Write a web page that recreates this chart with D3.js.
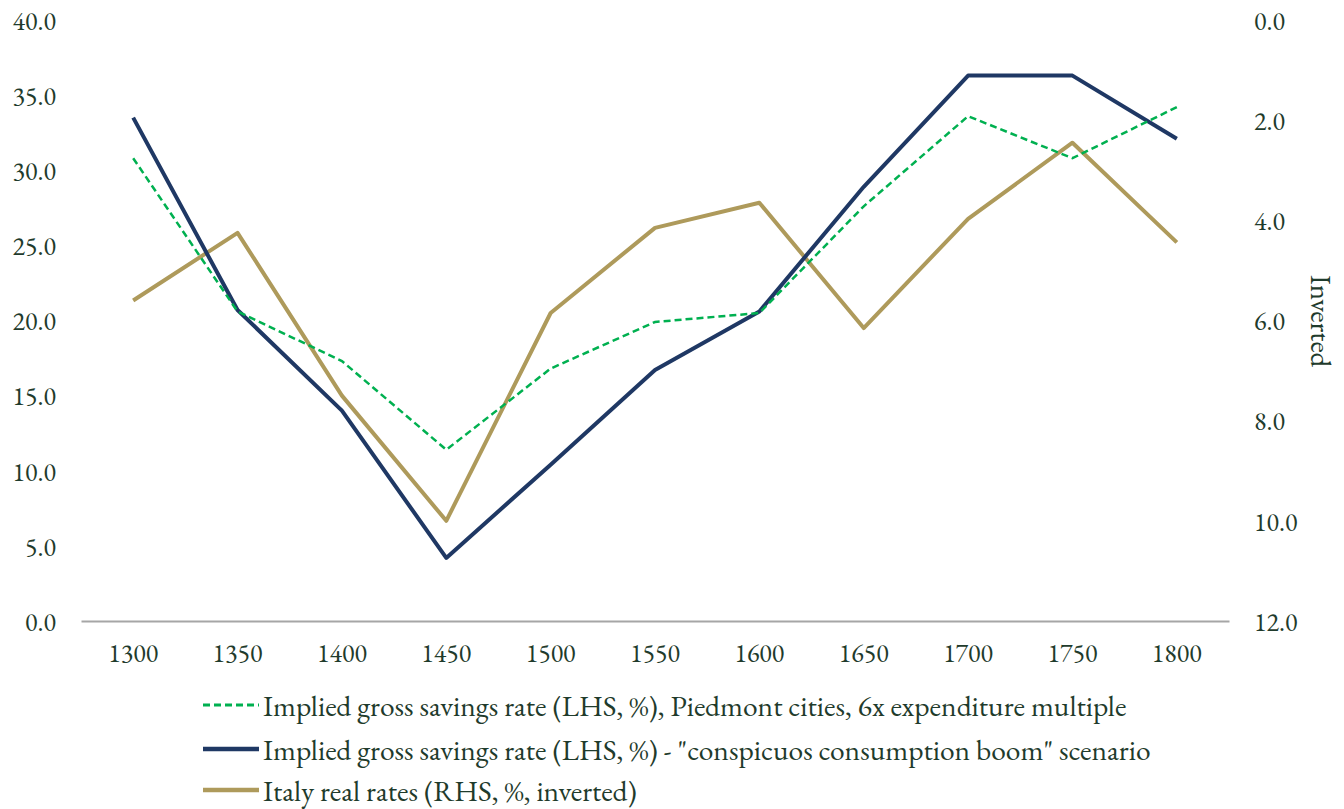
<!DOCTYPE html>
<html>
<head>
<meta charset="utf-8">
<script src="https://cdn.jsdelivr.net/npm/d3@7"></script>
<style>
  html, body { margin: 0; padding: 0; background: #fff; }
  svg { display: block; }
  svg text { font-family: "EB Garamond", "Liberation Serif", cursive; }
</style>
</head>
<body>
<svg id="chart" width="1344" height="809"></svg>
<script>
const years = ["1300","1350","1400","1450","1500","1550","1600","1650","1700","1750","1800"];
const piedmontSavings = [30.8, 20.6, 17.3, 11.4, 16.8, 19.9, 20.5, 27.6, 33.6, 30.8, 34.2];
const boomSavings = [33.5, 20.7, 14.0, 4.2, 10.4, 16.7, 20.6, 28.9, 36.3, 36.3, 32.1];
const italyRealRates = [5.6, 4.25, 7.5, 10.0, 5.85, 4.15, 3.65, 6.15, 3.97, 2.45, 4.44];
const leftTicks = [0, 5, 10, 15, 20, 25, 30, 35, 40];
const rightTicks = [0, 2, 4, 6, 8, 10, 12];
const seriesNames = [
  "Implied gross savings rate (LHS, %), Piedmont cities, 6x expenditure multiple",
  "Implied gross savings rate (LHS, %) - \"conspicuos consumption boom\" scenario",
  "Italy real rates (RHS, %, inverted)"
];
const rightTitle = "Inverted";

const FONT = "\"EB Garamond\", \"Liberation Serif\", cursive";
const TXT = "#1f3b2c";

const svg = d3.select("#chart");
const x = d3.scaleBand().domain(years).range([81, 1229]).padding(0);
const yL = d3.scaleLinear().domain([0, 40]).range([621, 20]);
const yR = d3.scaleLinear().domain([0, 12]).range([20, 621]);
const cx = d => x(d) + x.bandwidth() / 2;

function styleText(sel, size) {
  sel.attr("font-family", FONT).style("font-family", FONT).style("font-size", (size || 26) + "px").style("fill", TXT);
}

// left axis
const gL = svg.append("g").attr("transform", "translate(56,1)")
  .call(d3.axisLeft(yL).tickValues(leftTicks).tickFormat(d3.format(".1f")).tickSize(0).tickPadding(0));
gL.attr("font-family", FONT).attr("font-size", 26);
gL.select(".domain").remove();
styleText(gL.selectAll("text"));

// right axis
const gR = svg.append("g").attr("transform", "translate(1254,1)")
  .call(d3.axisRight(yR).tickValues(rightTicks).tickFormat(d3.format(".1f")).tickSize(0).tickPadding(0));
gR.attr("font-family", FONT).attr("font-size", 26);
gR.select(".domain").remove();
styleText(gR.selectAll("text"));

// bottom axis
const gB = svg.append("g").attr("transform", "translate(0,621)")
  .call(d3.axisBottom(x).tickSize(0).tickPadding(23));
gB.attr("font-family", FONT).attr("font-size", 26);
gB.select(".domain").attr("stroke", "#a6a6a6").attr("stroke-width", 2);
styleText(gB.selectAll("text"));

// right title
styleText(svg.append("text")
  .attr("transform", "translate(1321,321) rotate(90)")
  .attr("text-anchor", "middle").attr("dominant-baseline", "central")
  .text(rightTitle), 29);

const lineL = d3.line().x((d, i) => cx(years[i])).y(d => yL(d));
const lineR = d3.line().x((d, i) => cx(years[i])).y(d => yR(d));

const styles = [
  { color: "#00b050", width: 2.5, dash: "7,4" },
  { color: "#1f3864", width: 4, dash: null },
  { color: "#ae9a5b", width: 4, dash: null }
];

svg.append("path").datum(italyRealRates).attr("d", lineR)
  .attr("fill", "none").attr("stroke", styles[2].color).attr("stroke-width", styles[2].width).attr("stroke-linejoin", "round");
svg.append("path").datum(boomSavings).attr("d", lineL)
  .attr("fill", "none").attr("stroke", styles[1].color).attr("stroke-width", styles[1].width).attr("stroke-linejoin", "round");
svg.append("path").datum(piedmontSavings).attr("d", lineL)
  .attr("fill", "none").attr("stroke", styles[0].color).attr("stroke-width", styles[0].width)
  .attr("stroke-dasharray", styles[0].dash);

// legend
const legY = [705, 749, 790];
seriesNames.forEach((name, i) => {
  const g = svg.append("g").attr("transform", `translate(0,${legY[i]})`);
  g.append("line").attr("x1", 203).attr("x2", 259).attr("y1", 0).attr("y2", 0)
    .attr("stroke", styles[i].color).attr("stroke-width", styles[i].width + 0.5)
    .attr("stroke-dasharray", styles[i].dash);
  styleText(g.append("text").attr("x", 263).attr("y", 0).attr("dominant-baseline", "central")
    .text(name), 29.5);
});
</script>
</body>
</html>
